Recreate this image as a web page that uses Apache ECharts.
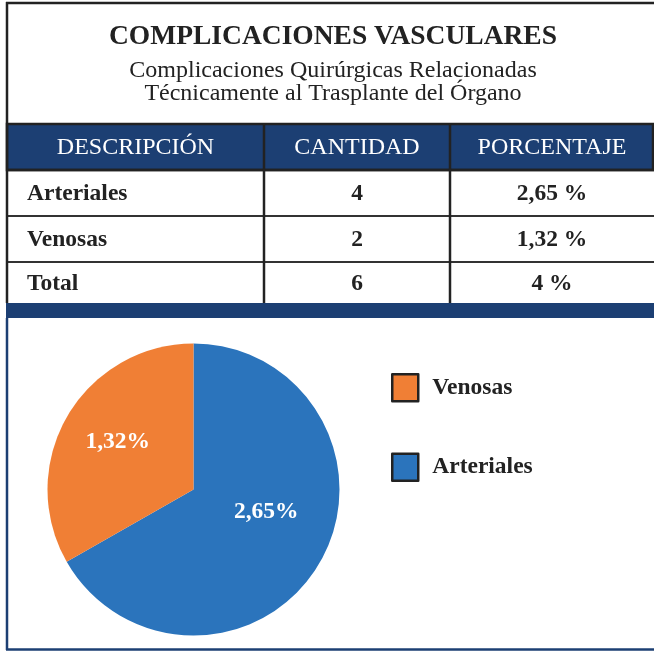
<!DOCTYPE html>
<html><head><meta charset="utf-8">
<script src="https://cdn.jsdelivr.net/npm/echarts@6/dist/echarts.min.js"></script>
<style>html,body{margin:0;padding:0;background:#fff}#c{width:654px;height:652px}</style>
</head><body><div id="c"></div>
<script>
const titleText = 'COMPLICACIONES VASCULARES';
const subtitleLines = ['Complicaciones Quirúrgicas Relacionadas', 'Técnicamente al Trasplante del Órgano'];
const headers = ['DESCRIPCIÓN', 'CANTIDAD', 'PORCENTAJE'];
const categories = ['Arteriales', 'Venosas'];
const cantidades = [4, 2];
const porcentajes = [2.65, 1.32];
const totalLabel = 'Total';
const totalCantidad = 6;
const totalPorcentaje = 4;
const legendOrder = ['Venosas', 'Arteriales'];

const FONT = '"Liberation Serif", "DejaVu Serif", serif';
const NAVY = '#1c3f73';
const DARK = '#222222';
const colors = { Arteriales: '#2b74bc', Venosas: '#f07f35' };

const fmt = v => String(v).replace('.', ',');

const colX = [7, 264, 450, 654];
const rowY = [124, 170, 216, 262, 303];

const g = [];
// title
g.push({ type: 'text', x: 333, y: 37, style: { text: titleText, font: 'bold 27.5px ' + FONT, fill: DARK, align: 'center', verticalAlign: 'middle' } });
subtitleLines.forEach((t, i) => g.push({ type: 'text', x: 333, y: 71 + i * 23, style: { text: t, font: '24px ' + FONT, fill: DARK, align: 'center', verticalAlign: 'middle' } }));
// header band
g.push({ type: 'rect', shape: { x: colX[0], y: rowY[0], width: 646, height: rowY[1] - rowY[0] }, style: { fill: NAVY, stroke: DARK, lineWidth: 2.5 } });
headers.forEach((h, i) => g.push({ type: 'text', x: (colX[i] + colX[i + 1]) / 2, y: (rowY[0] + rowY[1]) / 2 + 1, style: { text: h, font: '24px ' + FONT, fill: '#ffffff', align: 'center', verticalAlign: 'middle' } }));
// rows
const rows = categories.map((c, i) => [c, String(cantidades[i]), fmt(porcentajes[i].toFixed(2)) + ' %']);
rows.push([totalLabel, String(totalCantidad), fmt(totalPorcentaje) + ' %']);
rows.forEach((r, ri) => {
  const cy = (rowY[ri + 1] + rowY[ri + 2]) / 2 + 1;
  g.push({ type: 'text', x: 27, y: cy, style: { text: r[0], font: 'bold 23.5px ' + FONT, fill: DARK, align: 'left', verticalAlign: 'middle' } });
  g.push({ type: 'text', x: (colX[1] + colX[2]) / 2, y: cy, style: { text: r[1], font: 'bold 23.5px ' + FONT, fill: DARK, align: 'center', verticalAlign: 'middle' } });
  g.push({ type: 'text', x: (colX[2] + colX[3]) / 2, y: cy, style: { text: r[2], font: 'bold 23.5px ' + FONT, fill: DARK, align: 'center', verticalAlign: 'middle' } });
});
// row separators
[rowY[2], rowY[3]].forEach(y => g.push({ type: 'line', shape: { x1: colX[0], y1: y, x2: 654, y2: y }, style: { stroke: '#333', lineWidth: 2 } }));
g.push({ type: 'line', shape: { x1: colX[0], y1: rowY[1], x2: 654, y2: rowY[1] }, style: { stroke: DARK, lineWidth: 2.5 } });
// column separators
[colX[1], colX[2]].forEach(x => g.push({ type: 'line', shape: { x1: x, y1: rowY[0], x2: x, y2: rowY[4] }, style: { stroke: DARK, lineWidth: 2.5 } }));
// top and left frame
g.push({ type: 'line', shape: { x1: 6, y1: 3, x2: 654, y2: 3 }, style: { stroke: DARK, lineWidth: 2.5 } });
g.push({ type: 'line', shape: { x1: 7, y1: 2, x2: 7, y2: 303 }, style: { stroke: DARK, lineWidth: 2.5 } });
// navy band
g.push({ type: 'rect', shape: { x: 6, y: 303, width: 648, height: 15 }, style: { fill: NAVY } });
// lower panel frame
g.push({ type: 'line', shape: { x1: 7, y1: 318, x2: 7, y2: 650 }, style: { stroke: NAVY, lineWidth: 2.5 } });
g.push({ type: 'line', shape: { x1: 6, y1: 649.5, x2: 654, y2: 649.5 }, style: { stroke: NAVY, lineWidth: 2.5 } });

const pieData = categories.map((c, i) => ({
  name: c, value: porcentajes[i], itemStyle: { color: colors[c] },
  label: { offset: c === 'Arteriales' ? [7, -16] : [-10, -9] }
}));

const chart = echarts.init(document.getElementById('c'), null, { renderer: 'canvas' });
chart.setOption({
  animation: false,
  graphic: g,
  legend: {
    data: legendOrder, orient: 'vertical', left: 386, top: 368,
    itemWidth: 26, itemHeight: 27, itemGap: 50, icon: 'rect',
    itemStyle: { borderColor: DARK, borderWidth: 2.5 },
    textStyle: { fontFamily: FONT, fontSize: 23.5, fontWeight: 'bold', color: DARK, padding: [0, 0, 0, 9] },
    selectedMode: false
  },
  series: [{
    type: 'pie', center: [193.5, 489.5], radius: 146, startAngle: 90, clockwise: true,
    silent: true,
    label: { position: 'inside', color: '#fff', fontFamily: FONT, fontSize: 23.5, fontWeight: 'bold',
      formatter: p => fmt(p.value.toFixed(2)) + '%' },
    labelLine: { show: false },
    data: pieData
  }]
});
</script></body></html>
